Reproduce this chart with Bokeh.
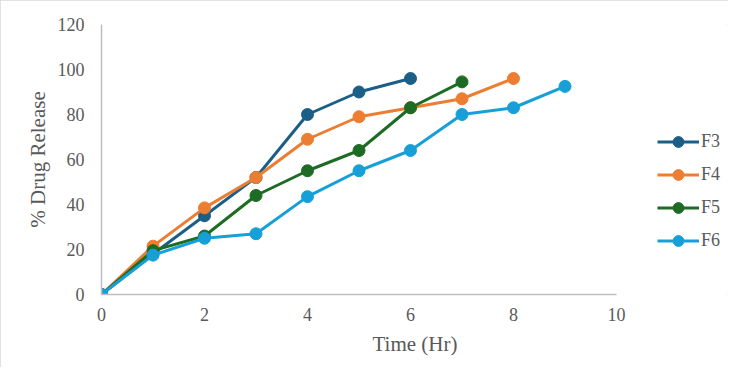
from bokeh.plotting import figure
from bokeh.models import Legend, LegendItem, Range1d, FixedTicker
from bokeh.embed import file_html
from bokeh.resources import INLINE

time_hr = [0, 1, 2, 3, 4, 5, 6, 7, 8, 9]
f3 = [0, 18, 35, 52, 80, 90, 96]
f4 = [0, 21.5, 38.5, 52, 69, 79, 83, 87, 96]
f5 = [0, 19.5, 26, 44, 55, 64, 83, 94.5]
f6 = [0, 17.5, 25, 27, 43.5, 55, 64, 80, 83, 92.5]
series_names = ["F3", "F4", "F5", "F6"]
series_values = [f3, f4, f5, f6]
series_colors = ["#1B5E86", "#ED7D31", "#1E6B24", "#17A0D8"]
x_ticks = [0, 2, 4, 6, 8, 10]
y_ticks = [0, 20, 40, 60, 80, 100, 120]

FONT = "Liberation Serif"
TXT = "#595959"
AX = "#BFBFBF"

W, H = 728, 367
LEFT, TOP, BOTTOM = 101, 24, 73
AXIS_PX = 515  # pixel length of the 0..10 x axis
frame_w = W - LEFT
x_end = 10 * frame_w / AXIS_PX

p = figure(width=W, height=H, output_backend="svg", toolbar_location=None,
           x_range=Range1d(0, x_end), y_range=Range1d(0, 120),
           min_border_left=LEFT, min_border_right=0, min_border_top=TOP, min_border_bottom=BOTTOM)
p.outline_line_color = None
p.grid.visible = False
p.background_fill_color = "white"
p.border_fill_color = "white"
p.styles = {"outline": "2px solid #D9D9D9", "outline-offset": "-2px"}

for ax, ticks in ((p.xaxis, x_ticks), (p.yaxis, y_ticks)):
    ax.ticker = FixedTicker(ticks=ticks)
    ax.axis_line_color = AX
    ax.axis_line_width = 1.5
    ax.major_tick_line_color = None
    ax.minor_tick_line_color = None
    ax.major_tick_out = 0
    ax.major_tick_in = 0
    ax.major_label_text_font = FONT
    ax.major_label_text_font_size = "18px"
    ax.major_label_text_color = TXT
    ax.axis_label_text_font = FONT
    ax.axis_label_text_font_size = "21px"
    ax.axis_label_text_font_style = "normal"
    ax.axis_label_text_color = TXT

p.xaxis.bounds = (0, 10)
p.xaxis.axis_label = "Time (Hr)"
p.yaxis.axis_label = "% Drug Release"
p.xaxis.major_label_standoff = 13
p.xaxis.axis_label_standoff = 8
p.yaxis.major_label_standoff = 17
p.yaxis.axis_label_standoff = 5

items = []
for name, vals, col in zip(series_names, series_values, series_colors):
    xs = time_hr[:len(vals)]
    r1 = p.line(xs, vals, line_color=col, line_width=3)
    r2 = p.scatter(xs, vals, size=12, fill_color=col, line_color=col)
    items.append(LegendItem(label=name, renderers=[r1, r2]))

legend = Legend(items=items, location=(556, 40), orientation="vertical",
                glyph_width=42, glyph_height=27, spacing=6, padding=0, margin=0,
                label_standoff=2, border_line_color=None, background_fill_alpha=0,
                label_text_font=FONT, label_text_font_size="18px", label_text_color=TXT)
p.add_layout(legend, "center")

open("out.html", "w").write(file_html(p, INLINE))
